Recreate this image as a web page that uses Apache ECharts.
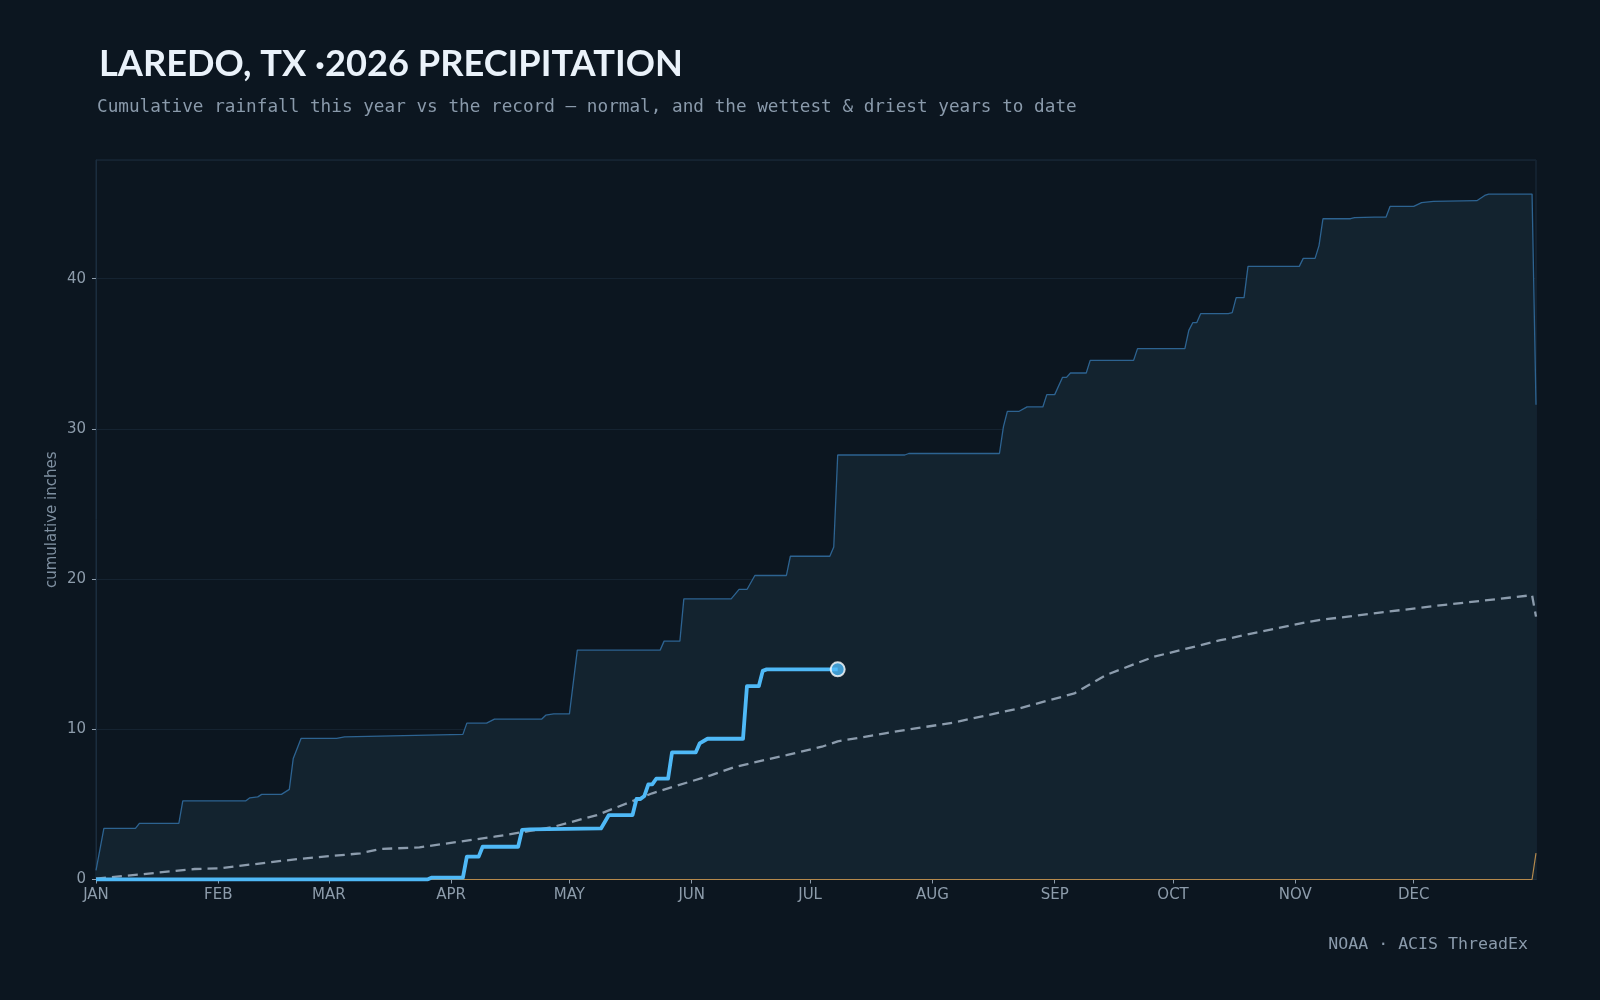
<!DOCTYPE html>
<html>
<head>
<meta charset="utf-8">
<script src="https://cdn.jsdelivr.net/npm/echarts@6/dist/echarts.min.js"></script>
<style>
  html, body { margin: 0; padding: 0; background: #0c1620; }
  #chart { width: 1600px; height: 1000px; }
</style>
</head>
<body>
<div id="chart"></div>
<script>
// day of year (0 = Jan 1) and cumulative inches
var monthStarts = [0, 31, 59, 90, 120, 151, 181, 212, 243, 273, 304, 334];
var monthNames = ['JAN', 'FEB', 'MAR', 'APR', 'MAY', 'JUN', 'JUL', 'AUG', 'SEP', 'OCT', 'NOV', 'DEC'];

// wettest year to date
var wetDays = [0, 2, 10, 11, 21, 22, 38, 39, 41, 42, 47, 49, 50, 52, 61, 63, 81, 93, 94, 99, 101, 113, 114, 116, 120, 122,
    143, 144, 148, 149, 161, 163, 165, 167, 175, 176, 186, 187, 188, 205, 206, 229, 230, 231, 234, 236, 240, 241, 243,
    245, 246, 247, 251, 252, 263, 264, 276, 277, 278, 279, 280, 287, 288, 289, 291, 292, 305, 306, 309, 310, 311, 318,
    319, 324, 327, 328, 334, 336, 339, 350, 352, 353, 364, 365];
var wetVals = [0.6, 3.4, 3.4, 3.74, 3.74, 5.24, 5.24, 5.44, 5.5, 5.67, 5.67, 6.0, 8.06, 9.4, 9.4, 9.5, 9.6, 9.66, 10.41, 10.41, 10.68, 10.68, 10.94, 11.03, 11.03, 15.27,
    15.27, 15.87, 15.87, 18.68, 18.68, 19.31, 19.31, 20.24, 20.24, 21.52, 21.52, 22.14, 28.26, 28.26, 28.36, 28.36, 30.13, 31.17, 31.17, 31.46, 31.46, 32.28, 32.28,
    33.43, 33.43, 33.72, 33.72, 34.56, 34.56, 35.34, 35.34, 36.56, 37.07, 37.07, 37.67, 37.67, 37.74, 38.74, 38.74, 40.82, 40.82, 41.35, 41.35, 42.2, 43.99, 43.99,
    44.06, 44.1, 44.1, 44.81, 44.81, 45.06, 45.14, 45.19, 45.54, 45.63, 45.63, 31.6];

// normal
var normDays = [0, 25, 31, 51, 67, 72, 82, 101, 110, 116, 127, 141, 156, 162, 175, 184, 188, 194, 200, 206, 217, 234, 248, 256, 268, 285, 306, 310, 339, 364, 365];
var normVals = [0.05, 0.7, 0.74, 1.36, 1.74, 2.03, 2.14, 2.85, 3.23, 3.51, 4.29, 5.74, 6.95, 7.5, 8.28, 8.84, 9.2, 9.46, 9.73, 9.99, 10.43, 11.39, 12.39, 13.61, 14.82, 15.93, 17.09, 17.27, 18.2, 18.93, 17.5];

// driest year to date
var dryDays = [0, 364, 365];
var dryVals = [0, 0, 1.75];

// this year (2026)
var yearDays = [0, 84, 85, 93, 94, 97, 98, 107, 108, 110, 128, 130, 136, 137, 138, 139, 140, 141, 142, 145, 146, 152, 153, 155, 164, 165, 168, 169, 170, 188];
var yearVals = [0, 0, 0.12, 0.12, 1.52, 1.52, 2.18, 2.18, 3.3, 3.34, 3.4, 4.29, 4.29, 5.36, 5.36, 5.56, 6.33, 6.33, 6.71, 6.71, 8.46, 8.46, 9.06, 9.37, 9.37, 12.87, 12.87, 13.89, 13.99, 13.99];

function pairs(xs, ys) {
    var out = [];
    for (var i = 0; i < xs.length; i++) {
        out.push([xs[i], ys[i]]);
    }
    return out;
}

var chart = echarts.init(document.getElementById('chart'));
var lastIdx = yearDays.length - 1;

var option = {
    backgroundColor: '#0c1620',
    animation: false,
    title: [
        {
            text: 'LAREDO, TX ·2026 PRECIPITATION',
            left: 94,
            top: 41,
            textStyle: { color: '#eaf2fa', fontFamily: 'Lato', fontWeight: 'bold', fontSize: 36.2, lineHeight: 36 }
        },
        {
            text: 'Cumulative rainfall this year vs the record — normal, and the wettest & driest years to date',
            left: 92,
            top: 93,
            textStyle: { color: '#8a9aab', fontFamily: 'DejaVu Sans Mono', fontWeight: 'normal', fontSize: 17.7, lineHeight: 18 }
        },
        {
            text: 'NOAA · ACIS ThreadEx',
            right: 67,
            top: 931,
            textStyle: { color: '#8a9aab', fontFamily: 'DejaVu Sans Mono', fontWeight: 'normal', fontSize: 16.6, lineHeight: 18 }
        }
    ],
    grid: {
        left: 96,
        right: 64,
        top: 160,
        bottom: 120.5,
        show: true,
        borderColor: '#1b2d3e',
        borderWidth: 1,
        backgroundColor: 'transparent'
    },
    xAxis: {
        type: 'value',
        min: 0,
        max: 365,
        splitLine: { show: false },
        axisLine: { show: true, lineStyle: { color: '#2a3b4b' } },
        axisTick: { show: true, length: 4, customValues: monthStarts, lineStyle: { color: '#8d9cab' } },
        axisLabel: {
            customValues: monthStarts,
            color: '#8d9cab',
            fontFamily: 'DejaVu Sans',
            fontSize: 15,
            margin: 8,
            formatter: function (v) {
                return monthNames[monthStarts.indexOf(v)];
            }
        }
    },
    yAxis: {
        type: 'value',
        min: 0,
        max: 47.9,
        interval: 10,
        name: 'cumulative inches',
        nameLocation: 'middle',
        nameGap: 36,
        nameMoveOverlap: false,
        nameTextStyle: { color: '#7f90a1', fontFamily: 'DejaVu Sans', fontSize: 15 },
        axisLine: { show: true, lineStyle: { color: '#1b2d3e' } },
        axisTick: { show: true, length: 4, lineStyle: { color: '#8d9cab' } },
        axisLabel: { color: '#8d9cab', fontFamily: 'DejaVu Sans', fontSize: 15, margin: 10, showMaxLabel: false },
        splitLine: { show: true, lineStyle: { color: '#152331', width: 1 } }
    },
    series: [
        {
            name: 'wettest',
            type: 'line',
            data: pairs(wetDays, wetVals),
            symbol: 'none',
            lineStyle: { color: '#2d6391', width: 1.3 },
            areaStyle: { color: '#13232f', opacity: 1 },
            z: 1
        },
        {
            name: 'driest',
            type: 'line',
            data: pairs(dryDays, dryVals),
            symbol: 'none',
            lineStyle: { color: '#b5894c', width: 1.2 },
            z: 2
        },
        {
            name: 'normal',
            type: 'line',
            data: pairs(normDays, normVals),
            symbol: 'none',
            lineStyle: { color: '#8c9cad', width: 2.3, type: [10, 6] },
            z: 3
        },
        {
            name: '2026',
            type: 'line',
            data: pairs(yearDays, yearVals),
            symbol: 'none',
            lineStyle: { color: '#4fb9f7', width: 3.8, join: 'round' },
            z: 4
        },
        {
            name: 'today',
            type: 'scatter',
            data: [[yearDays[lastIdx], yearVals[lastIdx]]],
            symbol: 'circle',
            symbolSize: 14,
            itemStyle: { color: '#4fb9f7', borderColor: '#ffffff', borderWidth: 2 },
            z: 5
        }
    ]
};

chart.setOption(option);
</script>
</body>
</html>
